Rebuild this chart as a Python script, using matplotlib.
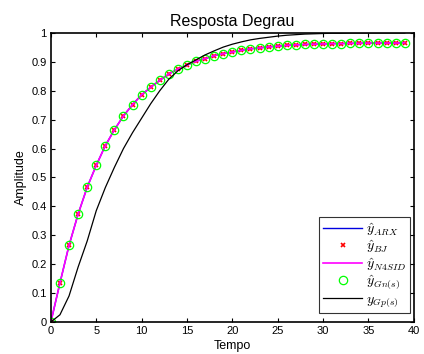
import numpy as np
import matplotlib
matplotlib.use("Agg")
import matplotlib.pyplot as plt

plt.rcParams['font.family'] = ['Liberation Sans', 'DejaVu Sans']
plt.rcParams['mathtext.fontset'] = 'cm'

t = np.arange(0, 40)

# identified models (practically identical)
y_model = [0, 0.135, 0.265, 0.373, 0.466, 0.542, 0.610, 0.665, 0.713, 0.752,
           0.786, 0.812, 0.836, 0.858, 0.875, 0.889, 0.902, 0.911, 0.921, 0.928,
           0.934, 0.940, 0.945, 0.948, 0.952, 0.954, 0.957, 0.959, 0.960, 0.961,
           0.962, 0.963, 0.963, 0.964, 0.964, 0.965, 0.965, 0.965, 0.965, 0.966]
y_arx = y_model
y_bj = y_model
y_n4sid = y_model
y_gn = y_model

# plant response
y_gp = [0, 0.025, 0.09, 0.19, 0.28, 0.385, 0.465, 0.535, 0.60, 0.655,
        0.705, 0.755, 0.80, 0.84, 0.869, 0.890, 0.907, 0.924, 0.938, 0.951,
        0.961, 0.969, 0.976, 0.981, 0.985, 0.989, 0.992, 0.994, 0.996, 0.997,
        0.998, 0.999, 0.999, 1.0, 1.0, 1.0, 1.0, 1.0, 1.0, 1.0]

fig = plt.figure(figsize=(4.24, 3.54), dpi=100)
ax = fig.add_axes([0.120, 0.0904, 0.856, 0.8166])

ax.plot(t, y_arx, color='#0000e0', lw=1.0, label=r'$\hat{y}_{ARX}$')
ax.plot(t, y_bj, 'x', color='red', ms=3.5, mew=1.2, label=r'$\hat{y}_{BJ}$')
ax.plot(t, y_n4sid, color='#ff00ff', lw=1.2, label=r'$\hat{y}_{N4SID}$')
ax.plot(t, y_gn, 'o', mfc='none', mec='#00ff00', ms=6, mew=0.9, label=r'$\hat{y}_{Gn(s)}$')
ax.plot(t, y_gp, color='black', lw=0.9, label=r'$y_{Gp(s)}$')

ax.set_xlim(0, 40)
ax.set_ylim(0, 1)
ax.set_xticks(np.arange(0, 41, 5))
ax.set_yticks(np.arange(0, 1.01, 0.1))
ax.set_yticklabels(['0', '0.1', '0.2', '0.3', '0.4', '0.5', '0.6', '0.7', '0.8', '0.9', '1'])
ax.tick_params(direction='in', top=True, right=True, labelsize=8, length=3, width=0.8, pad=3)
for s in ax.spines.values():
    s.set_linewidth(1.2)

ax.set_title('Resposta Degrau', fontsize=11.5, pad=5)
ax.set_xlabel('Tempo', fontsize=9, labelpad=3)
ax.set_ylabel('Amplitude', fontsize=9, labelpad=3)

leg = ax.legend(loc='lower right', bbox_to_anchor=(0.989, 0.031), fontsize=10,
                frameon=True, fancybox=False, edgecolor='black', handlelength=2.8,
                labelspacing=0.05, borderpad=0.3, handletextpad=0.25, borderaxespad=0)
leg.get_frame().set_linewidth(0.8)

fig.savefig('out.png', dpi=100)
